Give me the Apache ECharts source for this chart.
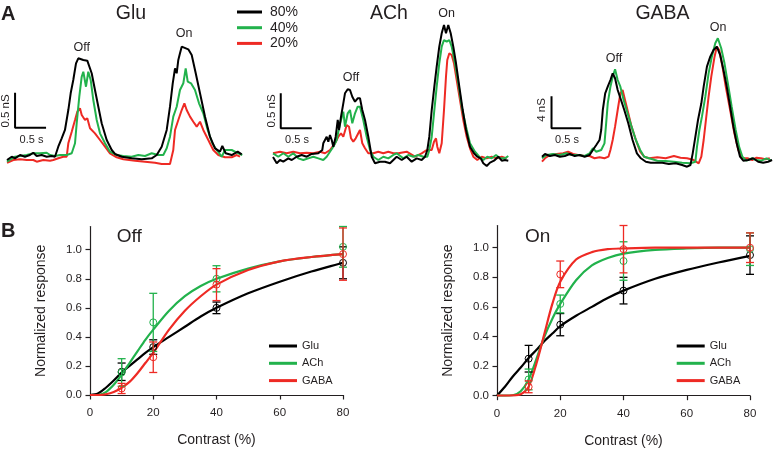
<!DOCTYPE html>
<html>
<head>
<meta charset="utf-8">
<script src="https://cdn.jsdelivr.net/npm/echarts@6/dist/echarts.min.js"></script>
<style>html,body{margin:0;padding:0;background:#fff}#c{width:780px;height:449px}</style>
</head>
<body>
<div id="c"></div>
<script>
// ---------- Panel A traces: [time (s), conductance (nS)] ----------
const gluT80 = [[0,0],[0.076,0.047],[0.129,0.024],[0.21,0.071],[0.29,0.047],[0.37,0.071],[0.424,0.104],[0.479,0.057],[0.56,0.071],[0.64,0.047],[0.72,0.057],[0.774,0.047],[0.827,0.19],[0.882,0.31],[0.935,0.429],[0.989,0.714],[1.027,0.953],[1.069,1.143],[1.113,1.381],[1.15,1.453],[1.231,1.429],[1.295,1.419],[1.366,1.239],[1.419,1.0],[1.473,0.761],[1.527,0.524],[1.608,0.286],[1.689,0.143],[1.742,0.086],[1.85,0.047],[2.011,0.024],[2.173,0.01],[2.334,0.024],[2.415,0.071],[2.495,0.19],[2.576,0.429],[2.629,0.761],[2.673,1.096],[2.71,1.31],[2.737,1.239],[2.763,1.429],[2.79,1.524],[2.818,1.619],[2.924,1.581],[2.979,1.5],[3.044,1.239],[3.113,0.953],[3.194,0.619],[3.274,0.333],[3.355,0.167],[3.435,0.119],[3.473,0.2],[3.527,0.096],[3.624,0.071],[3.721,0.119],[3.785,0.081]];
const gluT40 = [[0,-0.024],[0.129,0.047],[0.21,0.057],[0.318,0.071],[0.424,0.096],[0.532,0.096],[0.64,0.104],[0.694,0.071],[0.774,0.057],[0.855,0.071],[0.963,0.071],[1.044,0.096],[1.097,0.239],[1.124,0.524],[1.166,0.904],[1.205,1.19],[1.231,1.261],[1.274,1.047],[1.311,1.261],[1.35,1.143],[1.392,0.857],[1.447,0.571],[1.5,0.381],[1.581,0.239],[1.661,0.119],[1.769,0.071],[1.876,0.057],[2.011,0.047],[2.118,0.071],[2.226,0.057],[2.334,0.096],[2.44,0.071],[2.521,0.071],[2.576,0.167],[2.629,0.333],[2.682,0.619],[2.737,0.761],[2.79,1.0],[2.844,1.096],[2.882,1.31],[2.915,1.119],[2.968,1.096],[3.032,1.0],[3.097,0.81],[3.166,0.667],[3.237,0.429],[3.311,0.239],[3.382,0.143],[3.463,0.047],[3.516,0.143],[3.624,0.143],[3.731,0.096],[3.795,0.071]];
const gluT20 = [[0,-0.039],[0.102,0],[0.21,0.01],[0.318,0],[0.424,0],[0.479,-0.024],[0.585,0],[0.694,-0.01],[0.747,0],[0.827,0.024],[0.908,0.047],[0.963,0.047],[0.989,0.239],[1.044,0.404],[1.097,0.571],[1.134,0.69],[1.177,0.739],[1.205,0.643],[1.258,0.571],[1.295,0.596],[1.339,0.453],[1.419,0.381],[1.5,0.286],[1.581,0.19],[1.661,0.096],[1.769,0.039],[1.876,0.01],[2.065,-0.01],[2.226,-0.024],[2.387,-0.039],[2.495,-0.057],[2.629,-0.057],[2.682,0.143],[2.71,0.429],[2.763,0.571],[2.818,0.714],[2.861,0.81],[2.898,0.714],[2.952,0.619],[3.005,0.547],[3.06,0.476],[3.113,0.547],[3.166,0.429],[3.247,0.286],[3.327,0.143],[3.408,0.071],[3.516,0.039],[3.624,0.039],[3.705,0.071],[3.758,0.047]];

const achT80 = [[0,0],[0.06,-0.09],[0.113,-0.043],[0.166,-0.067],[0.247,-0.019],[0.302,-0.043],[0.382,0.004],[0.463,0.029],[0.544,0.004],[0.624,0.043],[0.731,0.053],[0.795,0.1],[0.811,0.196],[0.866,0.29],[0.892,0.219],[0.919,0.314],[0.947,0.243],[0.973,0.147],[1.011,0.29],[1.044,0.529],[1.065,0.386],[1.097,0.576],[1.134,0.767],[1.161,0.91],[1.205,0.967],[1.242,0.957],[1.279,0.861],[1.323,0.79],[1.366,0.839],[1.403,0.839],[1.44,0.671],[1.484,0.529],[1.537,0.29],[1.592,0.004],[1.645,-0.09],[1.726,-0.067],[1.806,-0.067],[1.887,-0.09],[1.995,0.004],[2.076,-0.043],[2.156,0.004],[2.237,-0.067],[2.318,-0.019],[2.398,-0.043],[2.452,0.004],[2.489,0.1],[2.521,0.29],[2.56,0.671],[2.602,1.004],[2.64,1.29],[2.682,1.576],[2.721,1.767],[2.758,1.886],[2.79,1.767],[2.827,1.886],[2.866,1.767],[2.908,1.576],[2.952,1.339],[3.005,1.004],[3.06,0.671],[3.113,0.386],[3.177,0.147],[3.242,0.053],[3.295,0.004],[3.35,-0.019],[3.392,-0.09],[3.447,-0.129],[3.5,-0.081],[3.565,-0.053],[3.634,0.004],[3.689,-0.053],[3.742,-0.043],[3.795,-0.053]];
const achT40 = [[0,0.053],[0.085,0.004],[0.166,0.053],[0.247,0.004],[0.327,0.053],[0.408,-0.019],[0.489,-0.043],[0.569,-0.019],[0.65,0.004],[0.731,-0.019],[0.811,-0.043],[0.866,0.004],[0.919,0.076],[0.973,0.147],[1.027,0.243],[1.065,0.41],[1.097,0.529],[1.134,0.647],[1.161,0.433],[1.205,0.624],[1.242,0.671],[1.279,0.481],[1.323,0.624],[1.366,0.719],[1.403,0.719],[1.456,0.529],[1.511,0.29],[1.565,0.1],[1.618,0.004],[1.698,-0.043],[1.779,0.004],[1.86,-0.019],[1.94,0.029],[1.995,0.053],[2.102,-0.019],[2.182,0.029],[2.263,0.004],[2.344,0.029],[2.424,0.004],[2.489,0.004],[2.521,0.1],[2.56,0.29],[2.597,0.624],[2.64,1.004],[2.682,1.339],[2.721,1.576],[2.758,1.671],[2.802,1.647],[2.844,1.671],[2.882,1.576],[2.935,1.339],[2.989,1.053],[3.044,0.719],[3.113,0.433],[3.177,0.196],[3.258,0.076],[3.327,0.004],[3.392,-0.043],[3.456,0.004],[3.527,-0.019],[3.597,0.029],[3.661,-0.019],[3.742,-0.019],[3.795,0.014]];
const achT20 = [[0,0.053],[0.113,0.076],[0.221,0.053],[0.327,0.076],[0.435,0.053],[0.544,0.061],[0.65,0.053],[0.758,0.076],[0.839,0.053],[0.919,0.1],[1.0,0.196],[1.053,0.29],[1.097,0.339],[1.134,0.29],[1.189,0.457],[1.226,0.433],[1.258,0.267],[1.295,0.219],[1.334,0.267],[1.366,0.267],[1.403,0.386],[1.44,0.196],[1.484,0.124],[1.537,0.053],[1.618,0.053],[1.698,0.076],[1.779,0.053],[1.86,0.076],[1.94,0.053],[2.021,0.053],[2.156,0.076],[2.29,0.004],[2.398,0.053],[2.479,0.1],[2.56,0.1],[2.597,0.219],[2.629,0.267],[2.65,0.147],[2.682,0.053],[2.721,0.196],[2.758,0.671],[2.79,1.147],[2.811,1.386],[2.844,1.481],[2.882,1.457],[2.919,1.339],[2.963,1.1],[3.016,0.814],[3.069,0.529],[3.124,0.29],[3.177,0.124],[3.231,0.004],[3.295,-0.043],[3.366,0.004],[3.447,-0.019],[3.527,0.004],[3.608,-0.019],[3.689,0.004],[3.769,-0.019]];

const gabaT80 = [[0,0.04],[0.05,0.375],[0.133,0.125],[0.217,0.25],[0.3,0.04],[0.383,0.125],[0.467,0.375],[0.55,0.125],[0.633,0.25],[0.717,0.04],[0.8,0.25],[0.855,0.875],[0.912,1.5],[0.967,2.125],[0.995,3.375],[1.022,5.875],[1.062,7.96],[1.105,8.79],[1.15,9.625],[1.188,10.46],[1.228,9.84],[1.272,8.375],[1.328,7.125],[1.383,5.875],[1.45,4.21],[1.522,2.125],[1.595,0.46],[1.662,-0.16],[1.745,-0.59],[1.828,-0.71],[1.912,-0.71],[2.022,-0.71],[2.133,-0.875],[2.245,-0.79],[2.355,-1.0],[2.438,-1.21],[2.495,-1.0],[2.533,0.46],[2.578,2.54],[2.622,4.625],[2.678,6.71],[2.717,8.79],[2.772,11.29],[2.828,12.54],[2.883,13.375],[2.938,13.79],[2.995,12.75],[3.05,10.875],[3.105,8.79],[3.162,6.29],[3.217,3.79],[3.272,1.71],[3.328,0.04],[3.383,-0.46],[3.467,-0.375],[3.55,-0.16],[3.633,-0.59],[3.717,-0.71],[3.8,-0.59],[3.867,-0.375]];
const gabaT40 = [[0,-0.16],[0.078,0.25],[0.188,0.375],[0.3,0.25],[0.412,0.46],[0.495,0.25],[0.605,0.25],[0.717,0.125],[0.8,0.46],[0.855,1.09],[0.912,0.66],[0.995,0.875],[1.05,1.71],[1.078,4.21],[1.105,6.71],[1.15,8.79],[1.188,10.04],[1.228,10.96],[1.272,9.625],[1.317,8.79],[1.372,7.125],[1.438,5.46],[1.505,3.79],[1.578,2.125],[1.65,0.875],[1.717,0.04],[1.8,-0.16],[1.938,-0.46],[2.078,-0.5],[2.217,-0.59],[2.355,-0.71],[2.495,-0.79],[2.578,-0.59],[2.605,1.29],[2.645,3.375],[2.688,5.04],[2.745,7.54],[2.8,10.46],[2.855,12.54],[2.912,14.21],[2.955,14.84],[3.012,13.59],[3.067,11.71],[3.133,8.79],[3.188,6.29],[3.255,3.375],[3.312,1.29],[3.367,0.04],[3.438,-0.46],[3.522,-0.16],[3.605,-0.375],[3.688,-0.46],[3.772,-0.16],[3.855,-0.46]];
const gabaT20 = [[0,-0.59],[0.05,-0.16],[0.133,0.25],[0.245,0.375],[0.355,0.46],[0.438,0.66],[0.522,0.375],[0.605,0.25],[0.717,0.125],[0.8,0.125],[0.883,-0.16],[0.967,-0.04],[1.05,-0.16],[1.117,0.04],[1.15,0.875],[1.188,2.125],[1.228,3.79],[1.272,5.875],[1.317,7.96],[1.355,8.375],[1.395,7.125],[1.45,5.46],[1.505,3.79],[1.578,2.125],[1.65,0.66],[1.717,0.04],[1.8,-0.16],[1.938,-0.04],[2.078,-0.16],[2.217,0.125],[2.328,-0.09],[2.438,-0.16],[2.55,-0.375],[2.633,-0.79],[2.678,0.04],[2.717,2.125],[2.755,4.625],[2.8,7.54],[2.845,10.04],[2.9,12.54],[2.938,13.79],[2.978,13.375],[3.033,11.29],[3.088,8.79],[3.162,5.875],[3.233,2.96],[3.3,0.875],[3.367,-0.16],[3.455,-0.16],[3.533,-0.375],[3.605,-0.09],[3.678,-0.16],[3.755,-0.29],[3.828,-0.16]];

// ---------- Panel B ----------
const contrastFit = [0,2.5,5,7.5,10,12.5,15,17.5,20,25,30,35,40,50,60,70,80];
const offGluFit  = [0,0.01,0.05,0.10,0.155,0.20,0.245,0.29,0.33,0.40,0.47,0.54,0.60,0.70,0.78,0.85,0.91];
const offAChFit  = [0,0,0.02,0.07,0.14,0.22,0.30,0.38,0.45,0.58,0.68,0.75,0.80,0.87,0.92,0.95,0.97];
const offGABAFit = [0,0,0.005,0.02,0.05,0.09,0.15,0.22,0.29,0.45,0.58,0.68,0.76,0.86,0.92,0.95,0.97];
const onGluFit   = [0,0.06,0.13,0.19,0.255,0.31,0.37,0.42,0.47,0.54,0.60,0.66,0.71,0.79,0.85,0.90,0.945];
const onAChFit   = [0,0,0.003,0.03,0.11,0.25,0.40,0.52,0.62,0.78,0.88,0.93,0.96,0.985,0.995,1.0,1.0];
const onGABAFit  = [0,0,0.002,0.01,0.06,0.22,0.42,0.62,0.77,0.92,0.97,0.99,0.995,1.0,1.0,1.0,1.0];

const contrastPts = [10,20,40,80];
const offGluMean  = [0.16,0.33,0.60,0.91];  const offGluErr  = [0.06,0.05,0.04,0.11];
const offAChMean  = [0.155,0.50,0.80,1.02]; const offAChErr  = [0.095,0.20,0.09,0.14];
const offGABAMean = [0.045,0.26,0.76,0.97]; const offGABAErr = [0.035,0.105,0.11,0.18];
const onGluMean   = [0.25,0.48,0.71,0.95];  const onGluErr   = [0.09,0.075,0.09,0.13];
const onAChMean   = [0.11,0.62,0.91,0.99];  const onAChErr   = [0.07,0.06,0.13,0.11];
const onGABAMean  = [0.06,0.82,0.99,1.00];  const onGABAErr  = [0.04,0.09,0.16,0.10];

const yTicks = [0,0.2,0.4,0.6,0.8,1.0];
const xTicks = [0,20,40,60,80];

// ---------- styling ----------
const FONT = 'Liberation Sans, Arial, Helvetica, sans-serif';
const BLACK = '#000000', GREEN = '#22b24c', RED = '#ee2a24', TXT = '#231f20';

const chart = echarts.init(document.getElementById('c'), null, {renderer:'canvas'});

const grids = [
  {left:7,   top:20,    width:248, height:154},
  {left:273, top:17,    width:248, height:154},
  {left:542, top:21,    width:240, height:152},
  {left:90,  top:226.5, width:253, height:168.5},
  {left:497, top:225.5, width:253, height:170.2}
];

const hiddenX = i => ({gridIndex:i, type:'value', min:0, max:4, show:false});
const xAxes = [hiddenX(0), hiddenX(1), hiddenX(2)];
const yAxes = [
  {gridIndex:0, type:'value', min:-0.2, max:2.0, show:false},
  {gridIndex:1, type:'value', min:-0.2, max:2.0, show:false},
  {gridIndex:2, type:'value', min:-2, max:17, show:false}
];
function bX(i){
  return {gridIndex:i, type:'value', min:0, max:80, interval:20,
    axisLine:{show:true, lineStyle:{color:TXT, width:1.2}},
    axisTick:{show:true, inside:false, length:4.5, lineStyle:{color:TXT, width:1.2}, customValues:xTicks},
    axisLabel:{color:TXT, fontSize:11.5, fontFamily:FONT, margin:12, customValues:xTicks},
    splitLine:{show:false},
    name:'Contrast (%)', nameLocation:'middle', nameGap:38,
    nameTextStyle:{color:TXT, fontSize:14, fontFamily:FONT}};
}
function bY(i, max){
  return {gridIndex:i, type:'value', min:0, max:max,
    axisLine:{show:true, onZero:false, lineStyle:{color:TXT, width:1.2}},
    axisTick:{show:true, inside:false, length:4.5, lineStyle:{color:TXT, width:1.2}, customValues:yTicks},
    axisLabel:{color:TXT, fontSize:11.5, fontFamily:FONT, margin:8, customValues:yTicks,
      formatter: v => v.toFixed(1)},
    splitLine:{show:false},
    name:'Normalized response', nameLocation:'middle', nameGap:42,
    nameTextStyle:{color:TXT, fontSize:14, fontFamily:FONT}};
}
xAxes.push(bX(3), bX(4));
yAxes.push(bY(3,1.16), bY(4,1.15));

const series = [];
function trace(name, data, color, gi){
  series.push({name, type:'line', xAxisIndex:gi, yAxisIndex:gi, data, showSymbol:false, symbol:'none',
    lineStyle:{color, width:2}, itemStyle:{color}, silent:true, animation:false, z:2});
}
[[gluT20,gluT40,gluT80],[achT20,achT40,achT80],[gabaT20,gabaT40,gabaT80]].forEach((set,gi)=>{
  trace('20%', set[0], RED, gi);
  trace('40%', set[1], GREEN, gi);
  trace('80%', set[2], BLACK, gi);
});

// scale bars (anchor in data units, lengths 0.5 s and 0.5 nS / 4 nS)
const scaleBars = [
  {gi:0, t:0.13, g:0.46, dt:0.5, dg:0.5},
  {gi:1, t:0.125, g:0.41, dt:0.5, dg:0.5},
  {gi:2, t:0.16, g:3.6, dt:0.5, dg:4}
];
scaleBars.forEach(s=>{
  series.push({type:'line', xAxisIndex:s.gi, yAxisIndex:s.gi, symbol:'none', animation:false, silent:true,
    data:[[s.t, s.g+s.dg],[s.t, s.g],[s.t+s.dt, s.g]], lineStyle:{color:BLACK, width:2}});
});

function fit(name, vals, color, gi){
  series.push({name, type:'line', xAxisIndex:gi, yAxisIndex:gi,
    data: contrastFit.map((c,i)=>[c, vals[i]]), smooth:0.3, symbol:'none', showSymbol:false,
    lineStyle:{color, width:2.2}, itemStyle:{color}, animation:false, silent:true, z:3});
}
function pts(name, mean, err, color, gi){
  series.push({name, type:'custom', xAxisIndex:gi, yAxisIndex:gi, clip:false, animation:false, silent:true, z:4,
    data: contrastPts.map((c,i)=>[c, mean[i], err[i]]),
    renderItem:(params, api)=>{
      const x=api.value(0), y=api.value(1), e=api.value(2);
      const t=api.coord([x,y+e]), b=api.coord([x,y-e]), c=api.coord([x,y]);
      const cw=4;
      const st={stroke:color, lineWidth:1.3};
      return {type:'group', children:[
        {type:'line', shape:{x1:t[0],y1:t[1],x2:b[0],y2:b[1]}, style:st},
        {type:'line', shape:{x1:t[0]-cw,y1:t[1],x2:t[0]+cw,y2:t[1]}, style:st},
        {type:'line', shape:{x1:b[0]-cw,y1:b[1],x2:b[0]+cw,y2:b[1]}, style:st},
        {type:'circle', shape:{cx:c[0],cy:c[1],r:3.5}, style:{fill:'none', stroke:color, lineWidth:1}}
      ]};
    }});
}
fit('Glu', offGluFit, BLACK, 3); fit('ACh', offAChFit, GREEN, 3); fit('GABA', offGABAFit, RED, 3);
pts('p1', offGluMean, offGluErr, BLACK, 3); pts('p2', offAChMean, offAChErr, GREEN, 3); pts('p3', offGABAMean, offGABAErr, RED, 3);
fit('Glu', onGluFit, BLACK, 4); fit('ACh', onAChFit, GREEN, 4); fit('GABA', onGABAFit, RED, 4);
pts('p4', onGluMean, onGluErr, BLACK, 4); pts('p5', onAChMean, onAChErr, GREEN, 4); pts('p6', onGABAMean, onGABAErr, RED, 4);

const legendA = {data:['80%','40%','20%'], orient:'vertical', left:237, top:5, padding:0,
  icon:'rect', itemWidth:25, itemHeight:3, itemGap:1.7, selectedMode:false,
  textStyle:{fontSize:14, fontFamily:FONT, color:TXT, lineHeight:14, padding:[0,0,0,3]}};
const legB = left => ({data:['Glu','ACh','GABA'], orient:'vertical', left, top:339.5, padding:0,
  icon:'rect', itemWidth:28, itemHeight:3, itemGap:4.3, selectedMode:false,
  textStyle:{fontSize:11, fontFamily:FONT, color:TXT, lineHeight:13}});

function txt(x, y, s, size, opts={}){
  return {type:'text', x, y, rotation: opts.rot||0, z:10, silent:true,
    style:{text:s, font:(opts.bold?'bold ':'')+size+'px '+FONT, fill:TXT,
      textAlign: opts.align||'center', textVerticalAlign:'middle'}};
}
const graphics = [
  txt(1, 14, 'A', 20, {bold:true, align:'left'}),
  txt(1, 231, 'B', 20, {bold:true, align:'left'}),
  txt(131, 14, 'Glu', 19.5), txt(389, 14, 'ACh', 19.5), txt(662.5, 14, 'GABA', 19.5),
  txt(81.7, 47.5, 'Off', 12.5), txt(184, 34, 'On', 12.5),
  txt(351, 78, 'Off', 12.5), txt(446.7, 13.5, 'On', 12.5),
  txt(614, 59, 'Off', 12.5), txt(718, 28, 'On', 12.5),
  txt(6, 111, '0.5 nS', 11.5, {rot:Math.PI/2}), txt(31.5, 139.5, '0.5 s', 11),
  txt(271.7, 111, '0.5 nS', 11.5, {rot:Math.PI/2}), txt(297, 140, '0.5 s', 11),
  txt(541.7, 110, '4 nS', 11.5, {rot:Math.PI/2}), txt(567, 140, '0.5 s', 11),
  txt(116.7, 237, 'Off', 19, {align:'left'}),
  txt(525, 237, 'On', 19, {align:'left'})
];

chart.setOption({
  animation:false,
  backgroundColor:'#ffffff',
  grid:grids,
  xAxis:xAxes,
  yAxis:yAxes,
  legend:[legendA, legB(269), legB(676.7)],
  series,
  graphic:graphics
});
</script>
</body>
</html>
